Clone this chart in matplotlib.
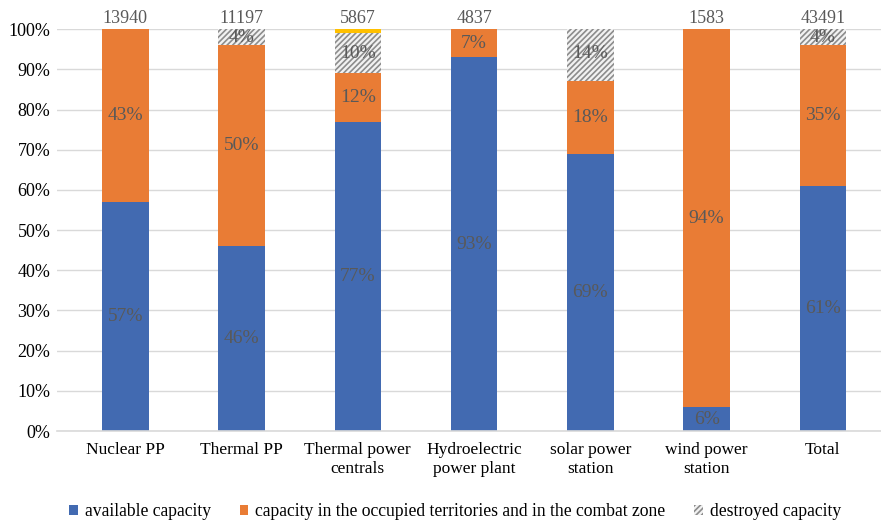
import matplotlib.pyplot as plt
import numpy as np

plt.rcParams['font.family'] = ['Liberation Serif', 'DejaVu Serif']
plt.rcParams['hatch.linewidth'] = 1.2

categories = ["Nuclear PP", "Thermal PP", "Thermal power\ncentrals", "Hydroelectric\npower plant",
              "solar power\nstation", "wind power\nstation", "Total"]
available = [57, 46, 77, 93, 69, 6, 61]
occupied = [43, 50, 12, 7, 18, 94, 35]
destroyed = [0, 4, 10, 0, 14, 0, 4]
other = [0.3, 0.3, 1, 0, 0, 0.3, 0.3]
totals = ["13940", "11197", "5867", "4837", "", "1583", "43491"]

blue = "#426AB1"
orange = "#E97C35"
yellow = "#FFC000"
txt = "#595959"

fig = plt.figure(figsize=(8.81, 5.2), dpi=100)
ax = fig.add_axes([0.065, 0.171, 0.935, 0.773])

x = np.arange(len(categories))
w = 0.4
a = np.array(available, float)
o = np.array(occupied, float)
d = np.array(destroyed, float)
y = np.array(other, float)

ax.bar(x, a, w, color=blue, label="available capacity", zorder=2)
ax.bar(x, o, w, bottom=a, color=orange,
       label="capacity in the occupied territories and in the combat zone", zorder=2)
ax.bar(x, d, w, bottom=a + o, facecolor="#f2f2f2", edgecolor="#8c8c8c", hatch="//////",
       linewidth=0, label="destroyed capacity", zorder=2)
ax.bar(x, y, w, bottom=a + o + d, color=yellow, zorder=2)

for i in range(len(x)):
    if a[i] > 0:
        ax.text(x[i], a[i] / 2, f"{available[i]}%", ha="center", va="center",
                fontsize=14, color=txt, zorder=3)
    if o[i] > 0:
        ax.text(x[i], a[i] + o[i] / 2, f"{occupied[i]}%", ha="center", va="center",
                fontsize=14, color=txt, zorder=3)
    if d[i] > 0:
        ax.text(x[i], a[i] + o[i] + d[i] / 2, f"{destroyed[i]}%", ha="center", va="center",
                fontsize=14, color=txt, zorder=3)
    ax.text(x[i], 100.5, totals[i], ha="center", va="bottom", fontsize=13, color=txt)

ax.set_xlim(-0.585, len(x) - 0.5)
ax.set_ylim(0, 100)
ax.set_yticks(np.arange(0, 101, 10))
ax.set_yticklabels([f"{v}%" for v in range(0, 101, 10)], fontsize=13)
ax.set_xticks(x)
ax.set_xticklabels(categories, fontsize=12.5)
ax.yaxis.grid(True, color="#d9d9d9", linewidth=1, zorder=0)
ax.set_axisbelow(True)
for s in ["top", "right", "left"]:
    ax.spines[s].set_visible(False)
ax.spines["bottom"].set_color("#d9d9d9")
ax.spines["bottom"].set_linewidth(1.2)
ax.tick_params(axis="y", length=0, pad=5)
ax.tick_params(axis="x", length=0, pad=8)

ax.legend(loc="center", bbox_to_anchor=(0.483, -0.2), ncol=3, frameon=False, fontsize=12.7,
          handlelength=0.5, handleheight=0.5, handletextpad=0.4, columnspacing=1.6)

fig.savefig("out.png", dpi=100)
